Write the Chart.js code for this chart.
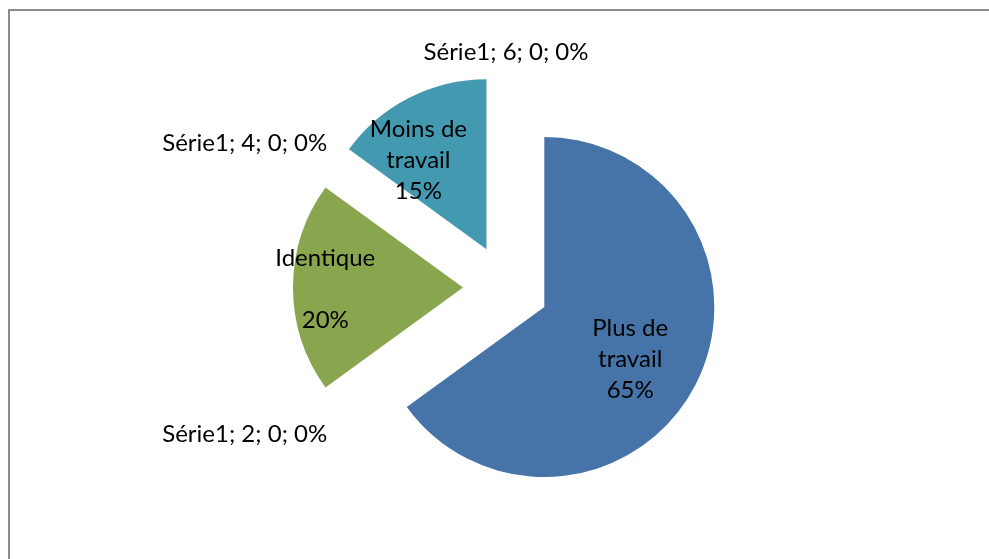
<!DOCTYPE html>
<html>
<head>
<meta charset="utf-8">
<script src="https://cdn.jsdelivr.net/npm/chart.js@4/dist/chart.umd.min.js"></script>
<style>
  html, body { margin: 0; padding: 0; background: #fff; }
  .wrap { position: absolute; left: 0; top: 0; width: 989px; height: 559px; }
  .frame { position: absolute; left: 8px; top: 9px; width: 990px; height: 560px;
           border-left: 2px solid #8c8c8c; border-top: 2px solid #8c8c8c; }
</style>
</head>
<body>
<div class="wrap">
  <div class="frame"></div>
  <canvas id="myChart" width="989" height="559"></canvas>
</div>
<script>
// ==== donnees ====
const serieName = "Série1";
const categories = [["Plus de", "travail"], "2", ["Identique", ""], "4", ["Moins de", "travail"], "6"];
const values = [65, 0, 20, 0, 15, 0];
const colors = ["#4673a8", "#4673a8", "#89a54e", "#89a54e", "#4399b0", "#4399b0"];

// position des etiquettes interieures: fraction du rayon, fraction de l'angle de la part
const labelDist = [0.585, 0, 0.81, 0, 0.67, 0];
const labelAng = [0.514, 0.5, 0.5, 0.5, 0.32, 0.5];
const fontFam = "Lato, 'Open Sans', sans-serif";
const explode = 43;

const total = values.reduce((s, v) => s + v, 0);

// ==== parts eclatees: on decale chaque part sur sa bissectrice ====
const explodePlugin = {
    id: "explode",
    afterDatasetUpdate(chart, args) {
        const meta = chart.getDatasetMeta(args.index);
        meta.data.forEach(arc => {
            const mid = (arc.startAngle + arc.endAngle) / 2;
            arc.x += Math.cos(mid) * explode;
            arc.y += Math.sin(mid) * explode;
        });
    }
};

// ==== plugin pour dessiner les etiquettes ====
const labelPlugin = {
    id: "excelLabels",
    afterDatasetsDraw(chart) {
        const ctx = chart.ctx;
        const meta = chart.getDatasetMeta(0);
        const r = meta.controller.outerRadius;
        ctx.save();
        ctx.fillStyle = "#000";
        ctx.font = "24px " + fontFam;
        ctx.textBaseline = "middle";
        meta.data.forEach((arc, i) => {
            const pct = Math.round(values[i] / total * 100) + "%";
            if (values[i] > 0) {
                const a = arc.startAngle + (arc.endAngle - arc.startAngle) * labelAng[i];
                const lines = [].concat(categories[i], pct);
                const lx = arc.x + Math.cos(a) * r * labelDist[i];
                const ly = arc.y + Math.sin(a) * r * labelDist[i] + 2;
                const lh = 31;
                ctx.textAlign = "center";
                lines.forEach((t, k) => {
                    ctx.fillText(t, lx, ly + (k - (lines.length - 1) / 2) * lh);
                });
            } else {
                const mid = arc.startAngle;
                const txt = serieName + "; " + categories[i] + "; " + values[i] + "; " + pct;
                const d = r + 8;
                const c = Math.cos(mid), s = Math.sin(mid);
                const lx = arc.x + c * d;
                const ly = arc.y + s * d;
                ctx.textAlign = Math.abs(c) < 0.2 ? "center" : (c < 0 ? "right" : "left");
                const dy = Math.abs(s) < 0.2 ? 0 : (s < 0 ? -14 : 17);
                ctx.fillText(txt, lx, ly + dy);
            }
        });
        ctx.restore();
    }
};

const data = {
    labels: categories,
    datasets: [{
        label: serieName,
        data: values,
        backgroundColor: colors,
        borderWidth: 0,
        hoverOffset: 0
    }]
};

const config = {
    type: "pie",
    data: data,
    options: {
        responsive: false,
        animation: false,
        radius: 170,
        layout: { padding: { left: 100, right: 77, top: 80, bottom: 64 } },
        plugins: {
            legend: { display: false },
            tooltip: { enabled: false }
        }
    },
    plugins: [explodePlugin, labelPlugin]
};

let myChart = new Chart(document.getElementById("myChart"), config);
</script>
</body>
</html>
